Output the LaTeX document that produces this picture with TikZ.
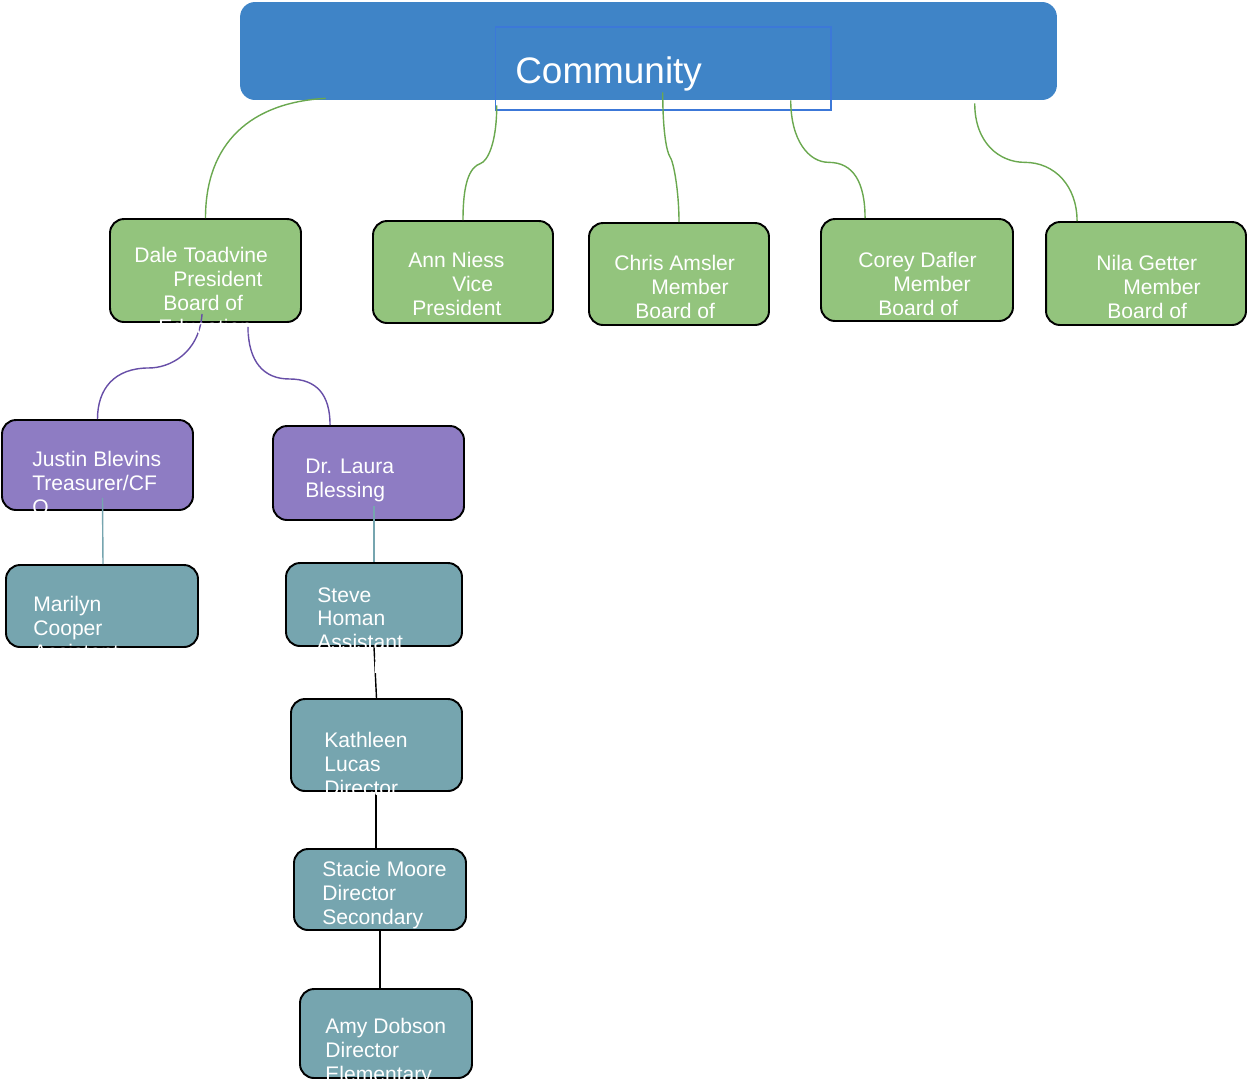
\documentclass[tikz,border=0pt]{standalone}
\usepackage{fontspec}
\setmainfont{Liberation Sans}
\usetikzlibrary{calc}

\definecolor{commblue}{RGB}{63,132,199}
\definecolor{frameblue}{RGB}{60,120,216}
\definecolor{boardgreen}{RGB}{147,196,125}
\definecolor{officerpurple}{RGB}{142,124,195}
\definecolor{staffteal}{RGB}{118,165,175}
\definecolor{linkgreen}{RGB}{106,168,79}
\definecolor{linkpurple}{RGB}{103,78,167}

\begin{document}
\begin{tikzpicture}[x=0.02cm, y=-0.02cm,
    card/.style ={rectangle, rounded corners=0.28cm, draw=black, line width=1.1pt},
    board/.style ={card, fill=boardgreen},
    officer/.style ={card, fill=officerpurple},
    staff/.style ={card, fill=staffteal},
    who/.style ={anchor=north west, inner sep=0pt, align=left, text=white,
      font=\fontsize{12}{13.6}\selectfont},
    greenlink/.style ={draw=linkgreen, line width=0.8pt},
    purplelink/.style ={draw=linkpurple, line width=0.8pt},
    teallink/.style ={draw=staffteal, line width=0.8pt},
    blacklink/.style ={draw=black, line width=0.8pt}]
   \useasboundingbox (0,0) rectangle (1247,1083);
   % top box
   \node[rectangle, rounded corners=0.3cm, fill=commblue, minimum width=16.34cm,
     minimum height=1.96cm] (comm) at (648.5,51) {};
   \node[rectangle, draw=frameblue, line width=0.6pt, minimum width=6.72cm,
     minimum height=1.66cm] (commframe) at (663,68.5) {};
   % board of education
   \node[board, minimum width=3.82cm, minimum height=2.06cm] (dale) at (205.5,270.5) {};
   \node[board, minimum width=3.6cm, minimum height=2.04cm] (ann) at (463,272) {};
   \node[board, minimum width=3.6cm, minimum height=2.04cm] (chris) at (679,274) {};
   \node[board, minimum width=3.84cm, minimum height=2.04cm] (corey) at (917,270) {};
   \node[board, minimum width=4.0cm, minimum height=2.06cm] (nila) at (1146,273.5) {};
   % officers
   \node[officer, minimum width=3.82cm, minimum height=1.8cm] (justin) at (97.5,465) {};
   \node[officer, minimum width=3.82cm, minimum height=1.88cm] (laura) at (368.5,473) {};
   % staff
   \node[staff, minimum width=3.84cm, minimum height=1.64cm] (marilyn) at (102,606) {};
   \node[staff, minimum width=3.52cm, minimum height=1.66cm] (steve) at (374,604.5) {};
   \node[staff, minimum width=3.42cm, minimum height=1.84cm] (kathleen) at (376.5,745) {};
   \node[staff, minimum width=3.44cm, minimum height=1.62cm] (stacie) at (380,889.5) {};
   \node[staff, minimum width=3.44cm, minimum height=1.78cm] (amy) at (386,1033.5) {};

   % links
   \draw[greenlink] ($(comm.south west)+(86,-2)$) .. controls +(-75,4) and +(0,-75) .. (dale.north);
   \draw[greenlink] ($(comm.south west)+(257,5)$) .. controls +(0,40) and +(6,-2) .. ++(-16,58)
     .. controls +(-12,4) and +(0,-35) .. (ann.north);
   \draw[greenlink] ($(comm.south west)+(423,-8)$) .. controls +(0,40) and +(-3,-5) .. ++(7,64)
     .. controls +(4,5) and +(0,-30) .. (chris.north);
   \draw[greenlink] ($(comm.south west)+(551,0)$) .. controls +(0,40) and +(-20,0) .. ++(38,62)
     .. controls +(25,0) and +(0,-35) .. ($(corey.north west)+(45,0)$);
   \draw[greenlink] ($(comm.south west)+(735,3)$) .. controls +(0,40) and +(-25,0) .. ++(50,59)
     .. controls +(30,0) and +(0,-35) .. ($(nila.north west)+(32,0)$);
   \draw[purplelink] ($(dale.south west)+(93,-9)$) .. controls +(-3,40) and +(20,0) .. ++(-53,54)
     .. controls +(-35,0) and +(0,-30) .. (justin.north);
   \draw[purplelink] ($(dale.south west)+(139,4)$) .. controls +(0,35) and +(-25,0) .. ++(41,52)
     .. controls +(28,0) and +(0,-30) .. ($(laura.north west)+(58,0)$);
   \draw[teallink] ($(justin.south)+(5,-13)$) -- ($(marilyn.north)+(1,0)$);
   \draw[teallink] ($(laura.south)+(5.5,-15)$) -- (steve.north);
   \draw[blacklink] (steve.south) -- (kathleen.north);
   \draw[blacklink] ($(kathleen.south)+(-0.5,0)$) -- ($(stacie.north)+(-4,0)$);
   \draw[blacklink] (stacie.south) -- ($(amy.north)+(-6,0)$);

   % names
   \node[inner sep=0pt, anchor=base west, text=white, font=\fontsize{21}{24}\selectfont]
     (commtext) at (515,83) {Community};
   \node[who] (dale-t) at (134,247) {Dale Toadvine\\\hspace*{0.78cm}President\\
     \hspace*{0.58cm}Board of\\\hspace*{0.48cm}Education};
   \node[who] (ann-t) at (408,252) {Ann Niess\\\hspace*{0.88cm}Vice\\\hspace*{0.08cm}President};
   \node[who] (chris-t) at (614,255) {Chris Amsler\\\hspace*{0.74cm}Member\\\hspace*{0.42cm}Board of};
   \node[who] (corey-t) at (858,252) {Corey Dafler\\\hspace*{0.7cm}Member\\\hspace*{0.4cm}Board of};
   \node[who] (nila-t) at (1096,255) {Nila Getter\\\hspace*{0.54cm}Member\\\hspace*{0.22cm}Board of};
   \node[who] (justin-t) at (32,451) {Justin Blevins\\Treasurer/CF\\O};
   \node[who] (laura-t) at (305,459) {Dr. Laura\\Blessing};
   \node[who] (marilyn-t) at (33,596) {Marilyn\\Cooper\\Assistant};
   \node[who] (steve-t) at (317,587) {Steve\\Homan\\Assistant\\Superinten\\dent};
   \node[who] (kathleen-t) at (324,732) {Kathleen\\Lucas\\Director};
   \node[who] (stacie-t) at (322,861) {Stacie Moore\\Director\\Secondary};
   \node[who] (amy-t) at (325,1018) {Amy Dobson\\Director\\Elementary};
 \end{tikzpicture}
\end{document}
